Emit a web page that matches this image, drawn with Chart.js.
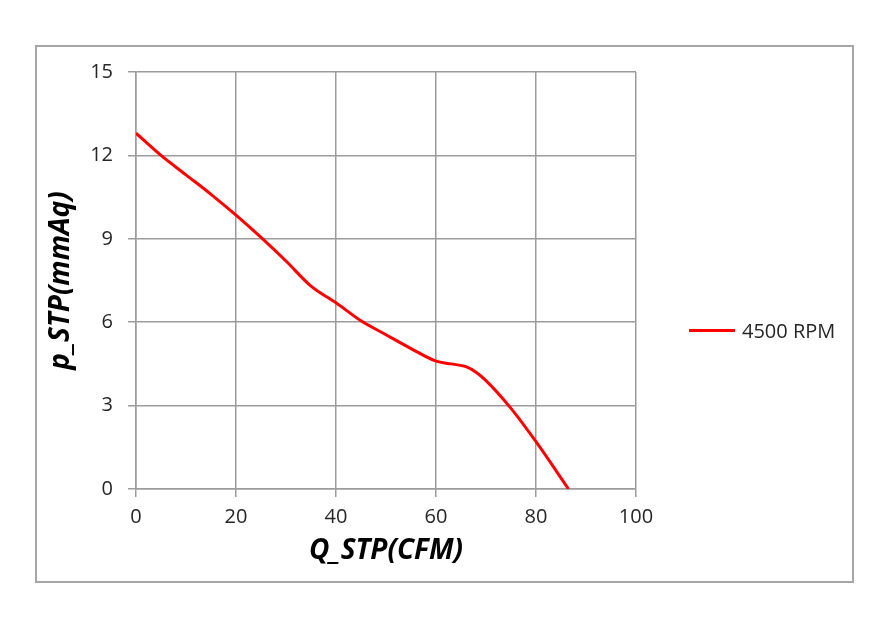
<!DOCTYPE html>
<html>
<head>
<meta charset="utf-8">
<script src="https://cdn.jsdelivr.net/npm/chart.js@4.4.1/dist/chart.umd.min.js"></script>
<style>
  html, body { margin: 0; padding: 0; background: #ffffff; }
  #wrap { position: relative; width: 887px; height: 618px; }
  #frame { position: absolute; left: 35px; top: 45px; width: 815px; height: 534px; border: 2px solid #a6a6a6; box-sizing: content-box; pointer-events: none; }
  #chart { position: absolute; left: 0; top: 0; }
  #legend { position: absolute; left: 689px; top: 316px; height: 28px; display: flex; align-items: center; font-family: "Open Sans", sans-serif; font-size: 20px; color: #262626; white-space: nowrap; }
  #legend .swatch { display: inline-block; width: 46px; height: 3px; margin-right: 7px; }
</style>
</head>
<body>
<div id="wrap">
  <canvas id="chart" width="887" height="618"></canvas>
  <div id="frame"></div>
  <div id="legend"></div>
</div>
<script>
// ---- data ----
const seriesName = "4500 RPM";
const flowQ = [0, 5, 10, 15, 20, 25, 30, 35, 40, 45, 50, 55, 60, 63, 66, 68, 70, 75, 80, 86.5];
const pressureP = [12.8, 12.0, 11.3, 10.6, 9.85, 9.05, 8.2, 7.3, 6.7, 6.05, 5.55, 5.05, 4.6, 4.5, 4.4, 4.2, 3.9, 2.9, 1.7, 0];
const xTicks = [0, 20, 40, 60, 80, 100];
const yTicks = [0, 3, 6, 9, 12, 15];
const xTitle = "Q_STP(CFM)";
const yTitle = "p_STP(mmAq)";
const lineColor = "#ff0000";

const points = flowQ.map((q, i) => ({ x: q, y: pressureP[i] }));
const gridColor = "#9c9c9c";
const tickFont = { family: "Open Sans", size: 20 };
const titleFont = { family: "Open Sans", size: 28, weight: "bold", style: "italic" };

new Chart(document.getElementById("chart"), {
  type: "line",
  data: {
    datasets: [{
      label: seriesName,
      data: points,
      borderColor: lineColor,
      backgroundColor: lineColor,
      borderWidth: 3,
      pointRadius: 0,
      fill: false,
      cubicInterpolationMode: "monotone"
    }]
  },
  options: {
    responsive: false,
    animation: false,
    events: [],
    layout: { padding: { left: 44, top: 72, right: 251, bottom: 50 } },
    plugins: { legend: { display: false }, tooltip: { enabled: false } },
    scales: {
      x: {
        type: "linear",
        min: xTicks[0],
        max: xTicks[xTicks.length - 1],
        afterBuildTicks: (s) => { s.ticks = xTicks.map(v => ({ value: v })); },
        afterFit: (s) => { s.height = 79; },
        grid: { color: gridColor, lineWidth: 1.5, tickLength: 8, drawTicks: true },
        border: { color: gridColor, width: 1.5 },
        ticks: { font: tickFont, color: "#262626", padding: 8, maxRotation: 0 },
        title: { display: true, text: xTitle, font: titleFont, color: "#000000", padding: 0 }
      },
      y: {
        type: "linear",
        min: yTicks[0],
        max: yTicks[yTicks.length - 1],
        afterBuildTicks: (s) => { s.ticks = yTicks.map(v => ({ value: v })); },
        afterFit: (s) => { s.width = 92; },
        grid: { color: gridColor, lineWidth: 1.5, tickLength: 8, drawTicks: true },
        border: { color: gridColor, width: 1.5 },
        ticks: { font: tickFont, color: "#262626", padding: 15 },
        title: { display: true, text: yTitle, font: titleFont, color: "#000000", padding: 0 }
      }
    }
  }
});

// HTML legend built from the dataset
const lg = document.getElementById("legend");
const sw = document.createElement("span");
sw.className = "swatch";
sw.style.background = lineColor;
const tx = document.createElement("span");
tx.textContent = seriesName;
lg.appendChild(sw);
lg.appendChild(tx);
</script>
</body>
</html>
